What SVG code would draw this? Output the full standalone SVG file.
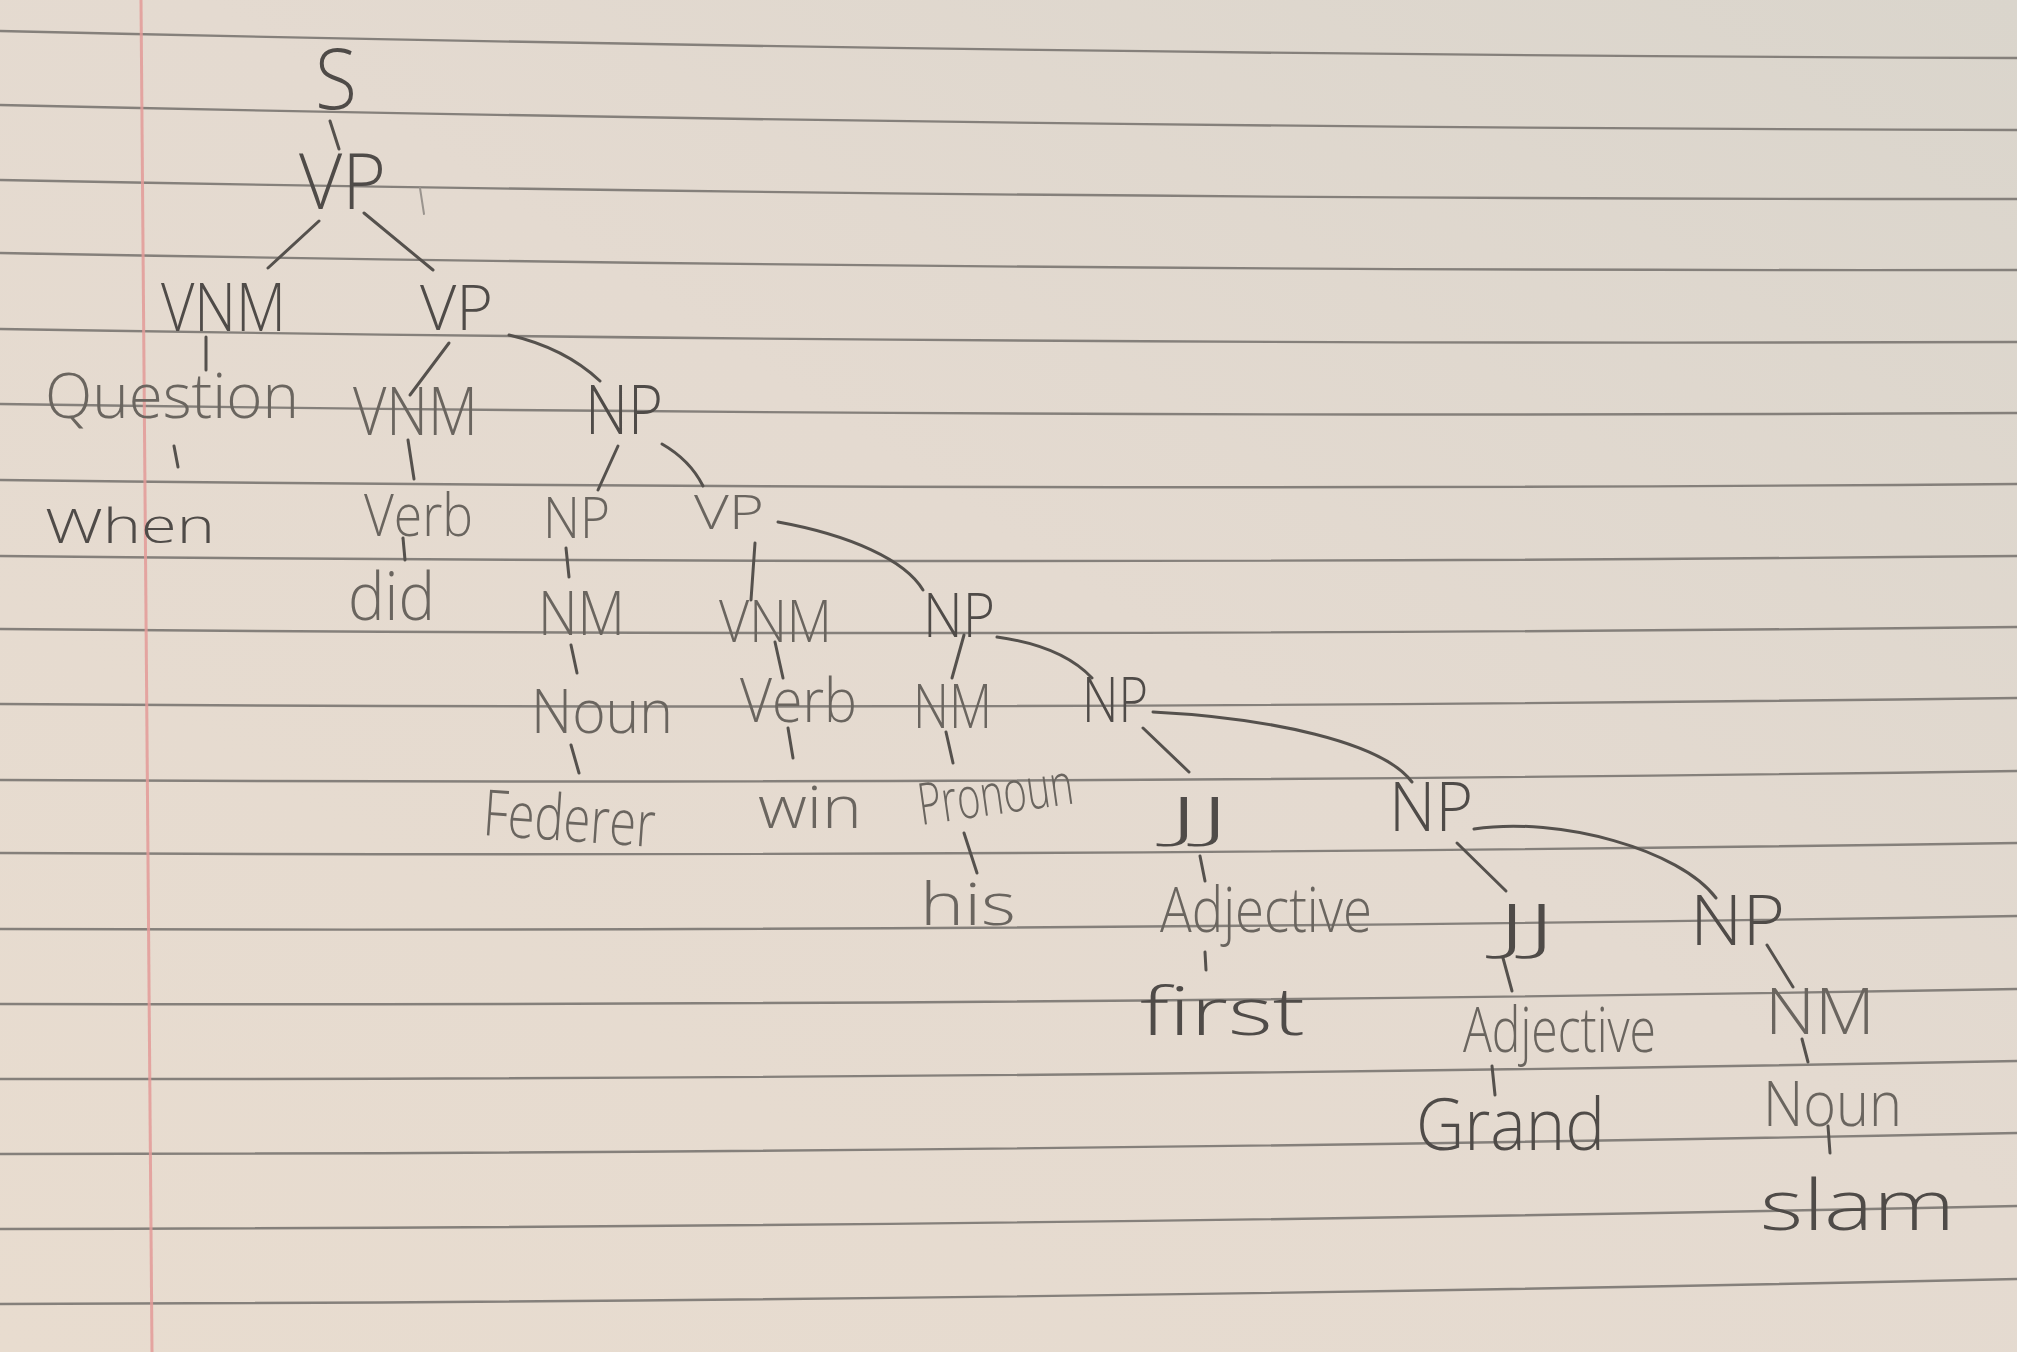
<svg xmlns="http://www.w3.org/2000/svg" width="2017" height="1352" viewBox="0 0 2017 1352">
<defs>
<linearGradient id="paper" x1="0" y1="1" x2="1" y2="0">
<stop offset="0" stop-color="#e8dccf"/>
<stop offset="0.55" stop-color="#e4dad0"/>
<stop offset="1" stop-color="#dad5cc"/>
</linearGradient>
<style>
.rule{stroke:#85807b;stroke-width:2.4;fill:none}
.margin{stroke:#e39a98;stroke-width:3;fill:none;opacity:0.85}
.t{font-family:"Open Sans","Liberation Sans",sans-serif;font-weight:300;fill:#4f4b48}
.f{fill:#6a655f}
.c line,.c path{stroke:#55514d;stroke-width:3;fill:none;stroke-linecap:round}
.c .faint{stroke:#9a948e;stroke-width:2}
</style>
</defs>
<rect x="0" y="0" width="2017" height="1352" fill="url(#paper)"/>
<g id="ruling">
<path class="rule" d="M0,31 Q1008,54.5 2017,58"/>
<path class="rule" d="M0,105 Q1008,127.5 2017,130"/>
<path class="rule" d="M0,180 Q1008,199.5 2017,199"/>
<path class="rule" d="M0,253 Q1008,271.5 2017,270"/>
<path class="rule" d="M0,329 Q1008,345.5 2017,342"/>
<path class="rule" d="M0,404 Q1008,418.5 2017,413"/>
<path class="rule" d="M0,480 Q1008,492 2017,484"/>
<path class="rule" d="M0,556 Q1008,566 2017,556"/>
<path class="rule" d="M0,629 Q1008,638 2017,627"/>
<path class="rule" d="M0,704 Q1008,711 2017,698"/>
<path class="rule" d="M0,780 Q1008,785.5 2017,771"/>
<path class="rule" d="M0,853 Q1008,858 2017,843"/>
<path class="rule" d="M0,929 Q1008,932.5 2017,916"/>
<path class="rule" d="M0,1004 Q1008,1006.5 2017,989"/>
<path class="rule" d="M0,1079 Q1008,1080 2017,1061"/>
<path class="rule" d="M0,1154 Q1008,1153.5 2017,1133"/>
<path class="rule" d="M0,1229 Q1008,1227.5 2017,1206"/>
<path class="rule" d="M0,1304 Q1008,1301.5 2017,1279"/>
<path class="margin" d="M141,0 L152,1352"/>
</g>
<g id="connectors" class="c">
<line x1="330" y1="121" x2="339" y2="149"/>
<line class="faint" x1="420" y1="188" x2="424" y2="214"/>
<line x1="319" y1="221" x2="268" y2="268"/>
<line x1="364" y1="213" x2="433" y2="270"/>
<line x1="206" y1="337" x2="206" y2="370"/>
<line x1="174" y1="446" x2="178" y2="467"/>
<line x1="449" y1="343" x2="410" y2="395"/>
<path d="M509,335 Q565,348 600,381"/>
<line x1="408" y1="440" x2="414" y2="479"/>
<line x1="618" y1="446" x2="598" y2="490"/>
<path d="M662,444 Q690,460 703,486"/>
<line x1="403" y1="538" x2="405" y2="560"/>
<line x1="566" y1="548" x2="569" y2="577"/>
<line x1="755" y1="543" x2="751" y2="600"/>
<path d="M778,522 C850,535 905,560 923,590"/>
<line x1="571" y1="645" x2="577" y2="673"/>
<line x1="775" y1="642" x2="783" y2="678"/>
<line x1="964" y1="635" x2="952" y2="678"/>
<path d="M997,637 Q1062,646 1092,678"/>
<line x1="571" y1="745" x2="579" y2="773"/>
<line x1="788" y1="728" x2="793" y2="758"/>
<line x1="946" y1="732" x2="953" y2="763"/>
<line x1="1143" y1="728" x2="1189" y2="772"/>
<path d="M1153,712 C1270,718 1382,742 1412,782"/>
<line x1="964" y1="833" x2="977" y2="873"/>
<line x1="1200" y1="856" x2="1205" y2="881"/>
<line x1="1457" y1="843" x2="1506" y2="891"/>
<path d="M1474,829 C1560,816 1680,850 1716,898"/>
<line x1="1205" y1="952" x2="1206" y2="970"/>
<line x1="1503" y1="958" x2="1512" y2="991"/>
<line x1="1767" y1="945" x2="1793" y2="987"/>
<line x1="1492" y1="1066" x2="1495" y2="1095"/>
<line x1="1802" y1="1039" x2="1808" y2="1062"/>
<line x1="1828" y1="1126" x2="1830" y2="1153"/>
</g>
<g id="n-S"><text class="t" x="315" y="109" font-size="85" textLength="42" lengthAdjust="spacingAndGlyphs">S</text></g>
<g id="n-VP1"><text class="t" x="299" y="209" font-size="78" textLength="87" lengthAdjust="spacingAndGlyphs">VP</text></g>
<g id="n-VNM1"><text class="t" x="161" y="331" font-size="67" textLength="125" lengthAdjust="spacingAndGlyphs">VNM</text></g>
<g id="n-VP2"><text class="t" x="420" y="330" font-size="63" textLength="73" lengthAdjust="spacingAndGlyphs">VP</text></g>
<g id="n-Question"><text class="t f" x="45" y="418" font-size="62" textLength="254" lengthAdjust="spacingAndGlyphs">Question</text></g>
<g id="n-When"><text class="t" x="45" y="543" font-size="48" textLength="170" lengthAdjust="spacingAndGlyphs">When</text></g>
<g id="n-VNM2"><text class="t f" x="353" y="435" font-size="66" textLength="125" lengthAdjust="spacingAndGlyphs">VNM</text></g>
<g id="n-NP1"><text class="t" x="585" y="434" font-size="68" textLength="78" lengthAdjust="spacingAndGlyphs">NP</text></g>
<g id="n-Verb1"><text class="t f" x="364" y="536" font-size="58" textLength="109" lengthAdjust="spacingAndGlyphs">Verb</text></g>
<g id="n-NP2"><text class="t f" x="543" y="538" font-size="57" textLength="67" lengthAdjust="spacingAndGlyphs">NP</text></g>
<g id="n-VP3"><text class="t f" x="694" y="529" font-size="48" textLength="70" lengthAdjust="spacingAndGlyphs">VP</text></g>
<g id="n-did"><text class="t f" x="348" y="620" font-size="66" textLength="87" lengthAdjust="spacingAndGlyphs">did</text></g>
<g id="n-NM1"><text class="t f" x="538" y="635" font-size="60" textLength="87" lengthAdjust="spacingAndGlyphs">NM</text></g>
<g id="n-VNM3"><text class="t f" x="719" y="642" font-size="59" textLength="113" lengthAdjust="spacingAndGlyphs">VNM</text></g>
<g id="n-NP3"><text class="t" x="923" y="637" font-size="61" textLength="72" lengthAdjust="spacingAndGlyphs">NP</text></g>
<g id="n-Noun1"><text class="t f" x="531" y="733" font-size="60" textLength="142" lengthAdjust="spacingAndGlyphs">Noun</text></g>
<g id="n-Verb2"><text class="t f" x="740" y="722" font-size="60" textLength="117" lengthAdjust="spacingAndGlyphs">Verb</text></g>
<g id="n-NM2"><text class="t f" x="913" y="728" font-size="60" textLength="79" lengthAdjust="spacingAndGlyphs">NM</text></g>
<g id="n-NP4"><text class="t" x="1082" y="722" font-size="62" textLength="66" lengthAdjust="spacingAndGlyphs">NP</text></g>
<g id="n-Federer"><text class="t f" x="482" y="835" font-size="64" textLength="172" lengthAdjust="spacingAndGlyphs" transform="rotate(4 482 835)">Federer</text></g>
<g id="n-win"><text class="t f" x="758" y="828" font-size="58" textLength="104" lengthAdjust="spacingAndGlyphs">win</text></g>
<g id="n-Pronoun"><text class="t f" x="921" y="825" font-size="58" textLength="156" lengthAdjust="spacingAndGlyphs" transform="rotate(-8 921 825)">Pronoun</text></g>
<g id="n-JJ1"><text class="t" x="1168" y="837" font-size="56" textLength="62" lengthAdjust="spacingAndGlyphs">JJ</text></g>
<g id="n-his"><text class="t f" x="920" y="925" font-size="58" textLength="96" lengthAdjust="spacingAndGlyphs">his</text></g>
<g id="n-NP5"><text class="t" x="1389" y="831" font-size="68" textLength="84" lengthAdjust="spacingAndGlyphs">NP</text></g>
<g id="n-Adjective1"><text class="t f" x="1160" y="932" font-size="62" textLength="212" lengthAdjust="spacingAndGlyphs">Adjective</text></g>
<g id="n-JJ2"><text class="t" x="1497" y="948" font-size="60" textLength="59" lengthAdjust="spacingAndGlyphs">JJ</text></g>
<g id="n-NP6"><text class="t" x="1690" y="945" font-size="70" textLength="95" lengthAdjust="spacingAndGlyphs">NP</text></g>
<g id="n-first"><text class="t" x="1140" y="1035" font-size="66" textLength="165" lengthAdjust="spacingAndGlyphs">first</text></g>
<g id="n-Adjective2"><text class="t f" x="1463" y="1052" font-size="62" textLength="193" lengthAdjust="spacingAndGlyphs">Adjective</text></g>
<g id="n-NM3"><text class="t f" x="1765" y="1034" font-size="64" textLength="110" lengthAdjust="spacingAndGlyphs">NM</text></g>
<g id="n-Grand"><text class="t" x="1416" y="1150" font-size="72" textLength="189" lengthAdjust="spacingAndGlyphs">Grand</text></g>
<g id="n-Noun2"><text class="t f" x="1763" y="1126" font-size="62" textLength="139" lengthAdjust="spacingAndGlyphs">Noun</text></g>
<g id="n-slam"><text class="t" x="1760" y="1230" font-size="70" textLength="195" lengthAdjust="spacingAndGlyphs">slam</text></g>
</svg>
